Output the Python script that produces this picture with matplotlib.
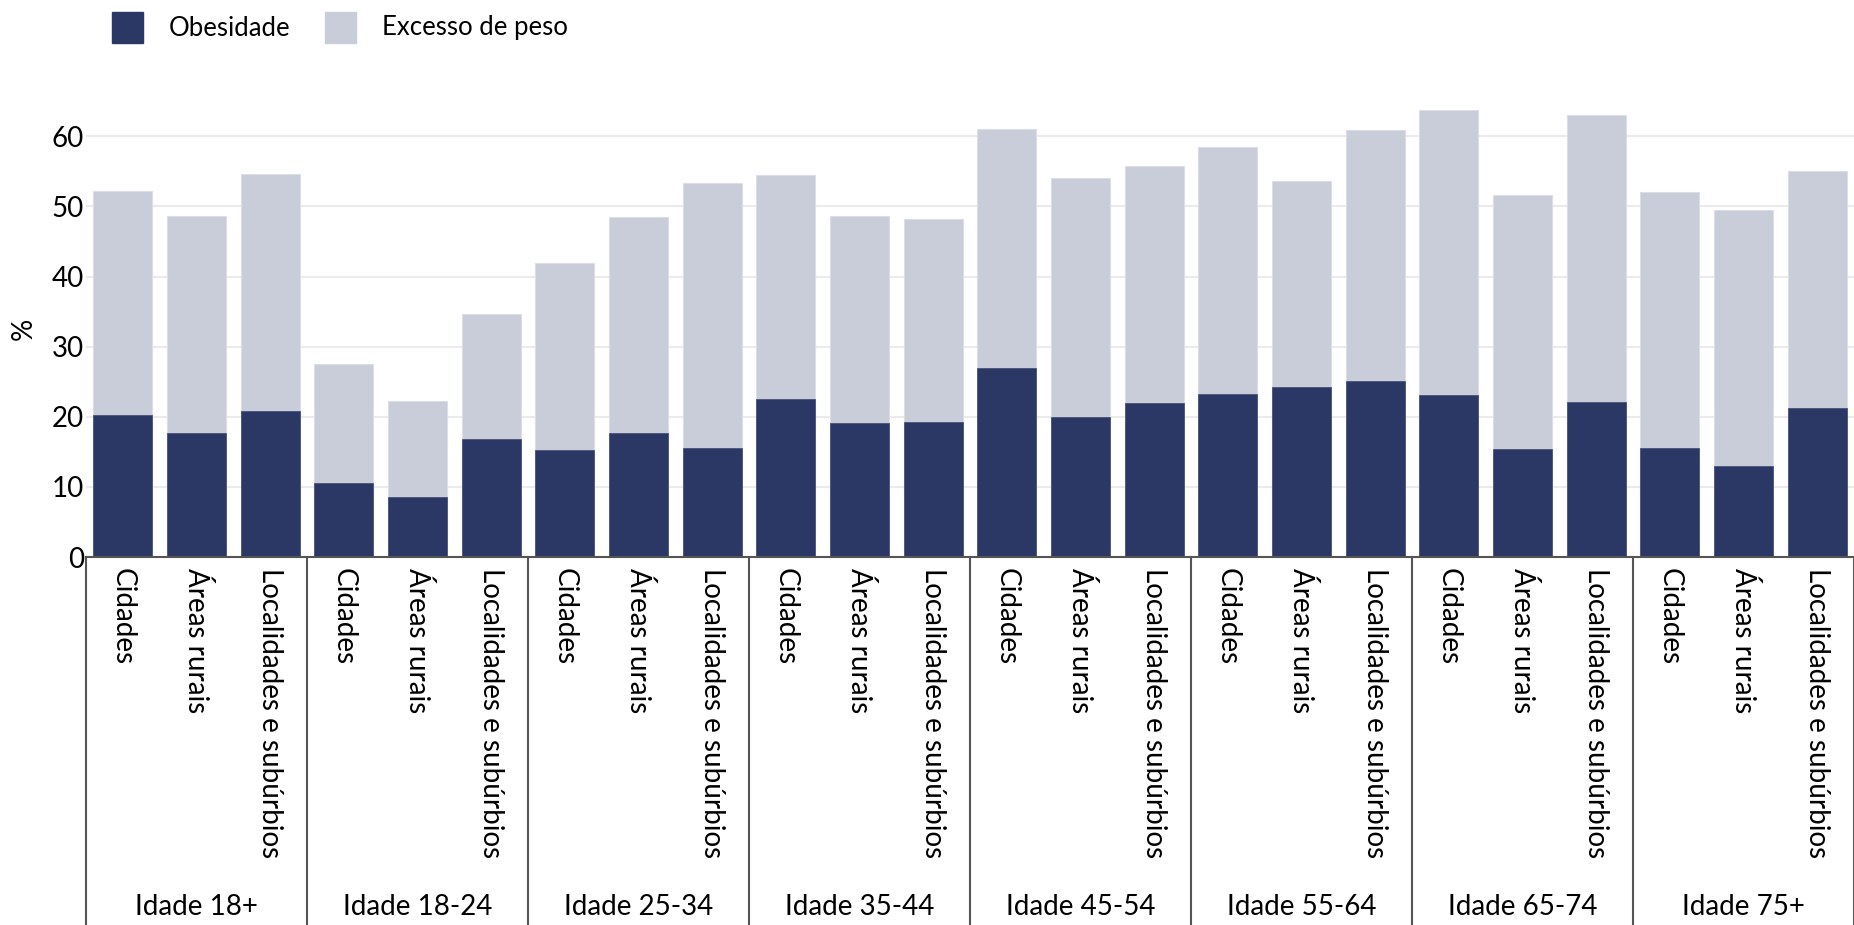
import matplotlib
matplotlib.use("Agg")
import matplotlib.pyplot as plt
import numpy as np
from matplotlib.patches import Rectangle

plt.rcParams['font.family'] = ['Lato', 'DejaVu Sans']

groups = ["Idade 18+", "Idade 18-24", "Idade 25-34", "Idade 35-44",
          "Idade 45-54", "Idade 55-64", "Idade 65-74", "Idade 75+"]
areas = ["Cidades", "Áreas rurais", "Localidades e subúrbios"]

excesso = [52.2, 48.7, 54.6,
           27.6, 22.2, 34.6,
           42.0, 48.5, 53.3,
           54.5, 48.6, 48.2,
           61.1, 54.1, 55.8,
           58.5, 53.6, 60.9,
           63.8, 51.7, 63.0,
           52.1, 49.5, 55.0]
obesidade = [20.3, 17.7, 20.8,
             10.5, 8.5, 16.8,
             15.2, 17.7, 15.5,
             22.5, 19.1, 19.3,
             26.9, 20.0, 22.0,
             23.3, 24.2, 25.1,
             23.1, 15.4, 22.1,
             15.6, 13.0, 21.3]
yticks = [0, 10, 20, 30, 40, 50, 60]

c_ob = "#2b3764"
c_ex = "#c9ccd9"
FS = 20

fig = plt.figure(figsize=(18.54, 9.25), dpi=100)
ax = fig.add_axes([86/1854, 1-557/925, 1-86/1854, 455.7/925])

n = len(excesso)
x = np.arange(n)
ax.bar(x, excesso, width=0.8, color=c_ex, edgecolor="#dcdee6", linewidth=0.8, zorder=2)
ax.bar(x, obesidade, width=0.8, color=c_ob, edgecolor="#4a5378", linewidth=0.6, zorder=3)

ax.set_xlim(-0.5, n - 0.5)
ax.set_ylim(0, 65)
ax.set_yticks(yticks)
ax.set_yticklabels([str(v) for v in yticks], fontsize=FS)
ax.yaxis.grid(True, color="#ebebeb", linewidth=1.5, zorder=0)
ax.set_axisbelow(True)
for s in ["top", "right", "left"]:
    ax.spines[s].set_visible(False)
ax.spines["bottom"].set_color("#555555")
ax.spines["bottom"].set_linewidth(1.5)
ax.spines["bottom"].set_zorder(4)
ax.tick_params(axis="y", length=0, pad=1.5)
ax.tick_params(axis="x", length=0, pad=8)

ax.set_xticks(x)
ax.set_xticklabels(areas * len(groups), rotation=-90, fontsize=FS, va="top", ha="center")

ax.set_ylabel("%", fontsize=FS, labelpad=11)

trans = ax.get_xaxis_transform()
for g in range(len(groups) + 1):
    xb = g * 3 - 0.5
    ax.plot([xb, xb], [0, -0.82], transform=trans, color="#555555",
            linewidth=1.5, clip_on=False, zorder=4)
for g, name in enumerate(groups):
    ax.text(g * 3 + 1, -0.768, name, transform=trans, ha="center", va="center",
            fontsize=FS)

# legend
fig.patches.append(Rectangle((112/1854, 1-43/925), 31/1854, 31/925,
                             transform=fig.transFigure, color=c_ob))
fig.text(169/1854, 1-28/925, "Obesidade", fontsize=18.5, va="center", ha="left")
fig.patches.append(Rectangle((325/1854, 1-43/925), 31/1854, 31/925,
                             transform=fig.transFigure, color=c_ex))
fig.text(382/1854, 1-28/925, "Excesso de peso", fontsize=18.5, va="center", ha="left")

fig.savefig("out.png", dpi=100)
